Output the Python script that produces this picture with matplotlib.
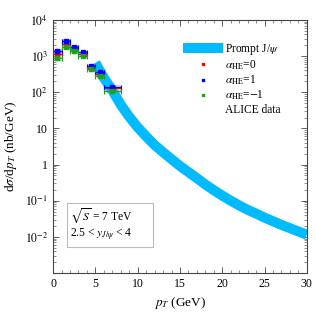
import matplotlib
matplotlib.use('Agg')
import matplotlib.pyplot as plt
from matplotlib.patches import Rectangle
from matplotlib.lines import Line2D
from matplotlib.ticker import MultipleLocator, LogLocator, FixedLocator

plt.rcParams['font.family'] = 'Liberation Serif'
plt.rcParams['mathtext.fontset'] = 'stix'
plt.rcParams['font.size'] = 8

# courbe theorique (prompt J/psi)
pt_theo = [5, 6, 7, 8, 9, 10, 11, 12, 13, 14, 15, 16, 17, 18, 19, 20, 21, 22,
           23, 24, 25, 26, 27, 28, 29, 30]
sig_theo = [650, 250, 112, 45, 21, 10.7, 6.0, 3.47, 2.19, 1.41, 0.91, 0.62,
            0.42, 0.28, 0.195, 0.138, 0.100, 0.074, 0.056, 0.044, 0.034,
            0.027, 0.0214, 0.0174, 0.0141, 0.0115]

# points ALICE pour les trois polarisations
pt_data = [0.5, 1.5, 2.5, 3.5, 4.5, 5.5, 7.0]
pt_half = [0.5, 0.5, 0.5, 0.5, 0.5, 0.5, 1.0]
sig_a0 = [1140, 2150, 1580, 1140, 470, 310, 127]
sig_a1 = [1400, 2600, 1800, 1270, 540, 360, 141]
sig_am1 = [870, 1800, 1350, 1020, 430, 280, 110]

fig = plt.figure(figsize=(3.16, 3.16), dpi=100)
ax = fig.add_axes([0.168, 0.136, 0.803, 0.801])

ax.plot(pt_theo, sig_theo, color='#00BBFF', lw=7.2, solid_capstyle='butt',
        solid_joinstyle='round')

for vals, col, light in [(sig_a0, 'red', '#ffb0b0'),
                         (sig_a1, 'blue', '#b0b0ff'),
                         (sig_am1, '#1fa01f', '#b0e0b0')]:
    for x, dx, y in zip(pt_data, pt_half, vals):
        ax.add_patch(Rectangle((x - dx, y * 0.88), 2 * dx, y * 0.24,
                               facecolor=light, edgecolor='none', alpha=0.6))
    ax.errorbar(pt_data, vals, xerr=pt_half, yerr=[[v * 0.08 for v in vals], [v * 0.08 for v in vals]],
                fmt='s', color=col, ms=3.5, elinewidth=0.8, capsize=1.8, capthick=0.8)

ax.set_xlim(0, 30)
ax.set_yscale('log')
ax.set_ylim(1e-3, 1e4)
ax.xaxis.set_major_locator(MultipleLocator(5))
ax.xaxis.set_minor_locator(MultipleLocator(1))
ax.yaxis.set_major_locator(FixedLocator([1e-3, 1e-2, 1e-1, 1, 10, 1e2, 1e3, 1e4]))
ax.yaxis.set_minor_locator(LogLocator(base=10, subs=range(2, 10), numticks=20))
ax.set_yticklabels(['', r'$10^{-2}$', r'$10^{-1}$', '1', '10', r'$10^{2}$', r'$10^{3}$', r'$10^{4}$'])
ax.tick_params(which='both', direction='in', top=True, right=True, labelsize=8.5)
ax.tick_params(which='major', length=4, width=0.6, colors='#444444', labelcolor='black')
ax.tick_params(which='minor', length=2, width=0.5, colors='#666666')
for s in ax.spines.values():
    s.set_color('#444444')
    s.set_linewidth(0.8)

ax.set_xlabel(r'$p_T$ (GeV)', fontsize=9.5)
ax.set_ylabel(r'd$\sigma$/d$p_T$ (nb/GeV)', fontsize=9.5)

handles = [Line2D([], [], color='#00BBFF', lw=7.2),
           Line2D([], [], color='red', marker='s', ms=1.8, ls='none'),
           Line2D([], [], color='blue', marker='s', ms=1.8, ls='none'),
           Line2D([], [], color='#1fa01f', marker='s', ms=1.8, ls='none'),
           Line2D([], [], color='none', ls='none')]
labels = [r'Prompt J/$\psi$', r'$\alpha_{\rm HE}$=0', r'$\alpha_{\rm HE}$=1',
          r'$\alpha_{\rm HE}$=$-$1', 'ALICE data']
ax.legend(handles, labels, loc='upper left', bbox_to_anchor=(0.49, 0.955),
          frameon=False, handlelength=2.6, handletextpad=0.6, labelspacing=0.15,
          fontsize=8.3)

# encadre avec l'energie et la rapidite
ax.add_patch(Rectangle((0.055, 0.103), 0.339, 0.174, transform=ax.transAxes,
                       facecolor='white', edgecolor='#bbbbbb', lw=0.8))
ax.text(0.067, 0.229, r'$\sqrt{S}$ = 7 TeV', transform=ax.transAxes, va='center', fontsize=8.3)
ax.text(0.067, 0.150, r'2.5 < $y_{J/\psi}$ < 4', transform=ax.transAxes, va='center', fontsize=8.3)

fig.savefig('out.png', dpi=100)
